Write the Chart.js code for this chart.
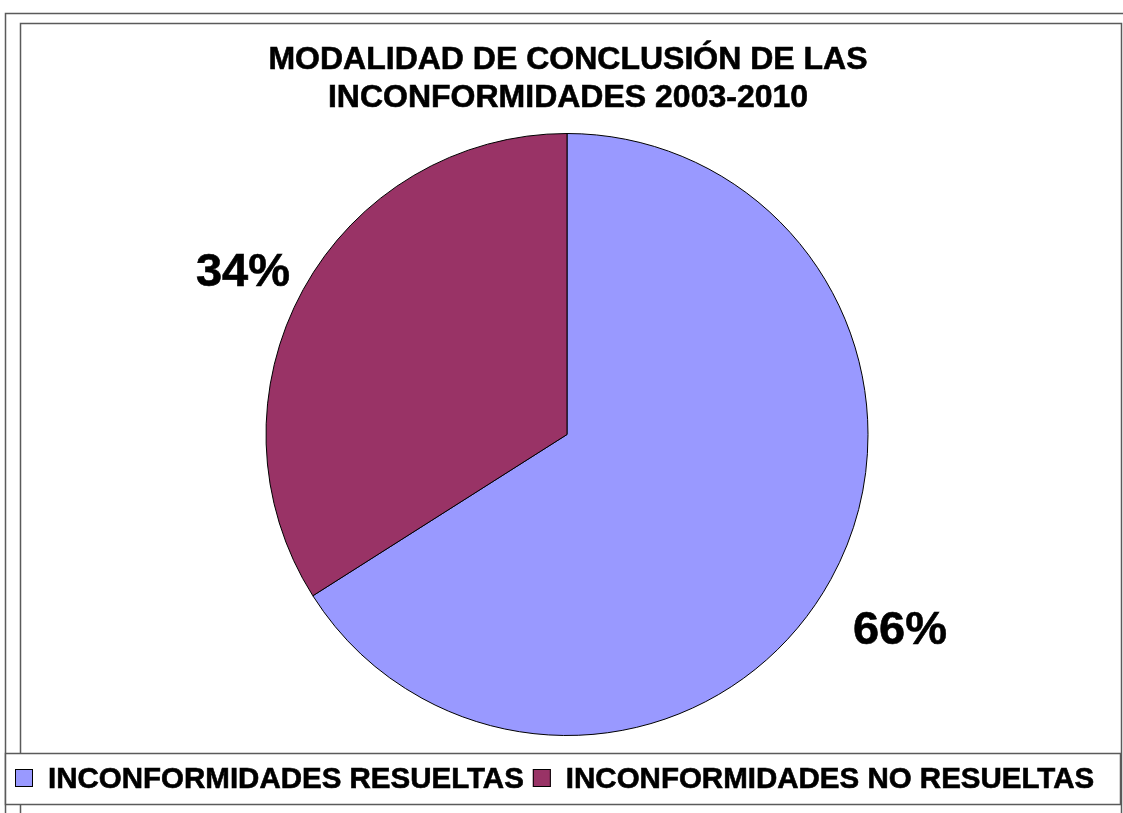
<!DOCTYPE html>
<html lang="es">
<head>
  <meta charset="UTF-8">
  <title>Modalidad de conclusión</title>
  <script src="https://cdn.jsdelivr.net/npm/chart.js"></script>
  <style>
    body { margin: 0; background: #fff; }
    #wrap { position: relative; width: 1123px; height: 813px; }
  </style>
</head>
<body>
<div id="wrap"><canvas id="pie" width="1123" height="813"></canvas></div>
<script>
  const categories = ['INCONFORMIDADES RESUELTAS', 'INCONFORMIDADES NO RESUELTAS'];
  const values = [66, 34];
  const colors = ['#9999FF', '#993366'];
  const titleLines = ['MODALIDAD DE CONCLUSIÓN DE LAS', 'INCONFORMIDADES 2003-2010'];
  const FONT = '"Liberation Sans", Arial, sans-serif';

  // text a bit heavier, like the excel export
  function boldText(c, txt, x, y) {
    c.fillText(txt, x, y);
    c.lineWidth = 0.6;
    c.strokeStyle = '#000';
    c.strokeText(txt, x, y);
  }

  // frames, title, % labels and legend drawn by hand (excel look)
  const decor = {
    id: 'decor',
    beforeDraw(chart) {
      const c = chart.ctx;
      c.save();
      c.strokeStyle = '#5a5a5a';
      c.lineWidth = 1.5;
      c.strokeRect(5.5, 13.5, 1130, 810);
      c.strokeRect(20.5, 23.5, 1101, 800);
      c.restore();
    },
    afterDraw(chart) {
      const c = chart.ctx;
      c.save();
      c.fillStyle = '#000';
      c.textAlign = 'center';
      c.textBaseline = 'alphabetic';
      c.font = 'bold 32px ' + FONT;
      boldText(c, titleLines[0], 568, 69);
      boldText(c, titleLines[1], 568, 107);

      // percent labels
      const meta = chart.getDatasetMeta(0);
      const total = values.reduce((a, b) => a + b, 0);
      const labelPos = [[900, 644], [243, 286]];
      c.font = 'bold 47px ' + FONT;
      meta.data.forEach((arc, i) => {
        boldText(c, Math.round(values[i] / total * 100) + '%', labelPos[i][0], labelPos[i][1]);
      });

      // legend box
      c.fillStyle = '#fff';
      c.fillRect(5, 753, 1115, 51);
      c.strokeStyle = '#5a5a5a';
      c.lineWidth = 1.5;
      c.strokeRect(5.5, 753.5, 1115, 51);
      c.font = 'bold 29.5px ' + FONT;
      c.textAlign = 'left';
      let x = 15;
      categories.forEach((lab, i) => {
        c.fillStyle = colors[i];
        c.fillRect(x, 769, 18, 18);
        c.strokeStyle = '#000';
        c.lineWidth = 1;
        c.strokeRect(x + 0.5, 769.5, 17, 17);
        c.fillStyle = '#000';
        boldText(c, lab, x + 33, 788);
        x += 33 + c.measureText(lab).width + 9;
      });
      c.restore();
    }
  };

  new Chart(document.getElementById('pie'), {
    type: 'pie',
    data: {
      labels: categories,
      datasets: [{
        data: values,
        backgroundColor: colors,
        borderColor: '#000',
        borderWidth: 1,
        hoverOffset: 0
      }]
    },
    options: {
      responsive: false,
      animation: false,
      radius: 301,
      layout: { padding: { top: 133, bottom: 77, left: 266, right: 255 } },
      plugins: {
        legend: { display: false },
        title: { display: false },
        tooltip: { enabled: false }
      }
    },
    plugins: [decor]
  });
</script>
</body>
</html>
